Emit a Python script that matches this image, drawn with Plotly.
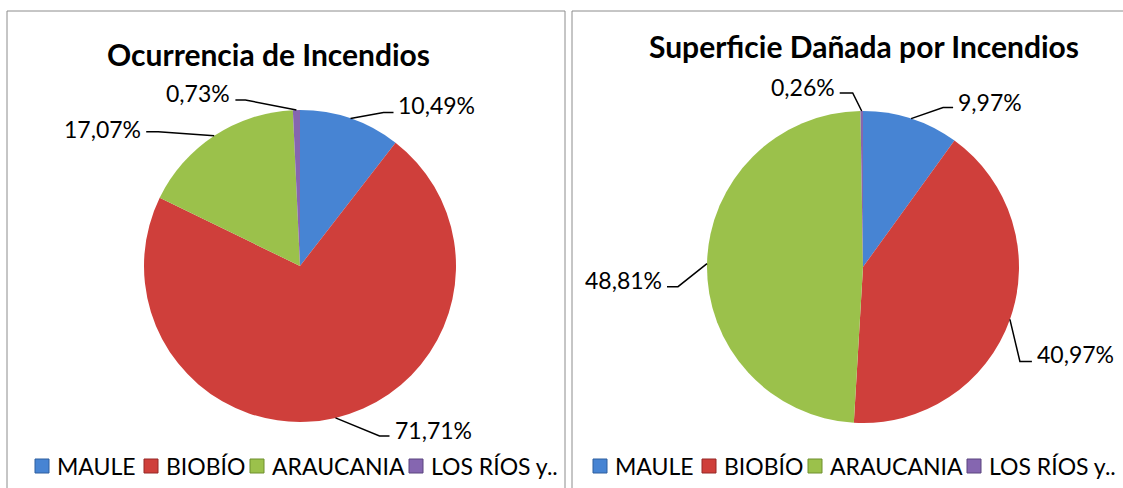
import math
import plotly.graph_objects as go

# ---- data ----
categories = ["MAULE", "BIOBÍO", "ARAUCANIA", "LOS RÍOS y.."]
ocurrencia = [10.49, 71.71, 17.07, 0.73]
superficie = [9.97, 40.97, 48.81, 0.26]
titles = ["Ocurrencia de Incendios", "Superficie Dañada por Incendios"]

colors = ["#4784D3", "#CF3F3B", "#9BC14B", "#8566B0"]
edge_colors = ["#2F5F9E", "#952826", "#6E8F2E", "#5B447F"]

W, H = 1123, 488
FONT = "Lato"

# ---- layout geometry (pixels) ----
pies = [
    dict(values=ocurrencia, cx=300, cy=266, r=156, title_x=268, title_y=54, leg_dx=0,
         # elbow offset from slice edge point, horizontal run, text y offset
         lab=[(33, -6, 10, -7), (44, 18, 10, -6), (-56, -4, -12, -3), (-51, -10, -10, -7)]),
    dict(values=superficie, cx=863, cy=267, r=156, title_x=864, title_y=46, leg_dx=558,
         lab=[(32, -11, 10, -6), (10, 42, 12, -7), (-29, 23, -11, -7), (-9, -18, -13, -6)]),
]
legend_square_x = [35, 144, 250, 409]
legend_y = 466
legend_sq = 14

fig = go.Figure()
shapes = []
annotations = []

# panel borders
shapes.append(dict(type="rect", xref="x", yref="y", x0=7, y0=11, x1=565, y1=500,
                   line=dict(color="#8c8c8c", width=1), fillcolor="rgba(0,0,0,0)"))
shapes.append(dict(type="rect", xref="x", yref="y", x0=572, y0=11, x1=1130, y1=500,
                   line=dict(color="#8c8c8c", width=1), fillcolor="rgba(0,0,0,0)"))

for k, p in enumerate(pies):
    cx, cy, r = p["cx"], p["cy"], p["r"]
    fig.add_trace(go.Pie(
        labels=categories, values=p["values"], sort=False, direction="clockwise",
        rotation=0, textinfo="none", hoverinfo="label+percent", showlegend=False,
        marker=dict(colors=colors, line=dict(width=0)),
        domain=dict(x=[(cx - r) / W, (cx + r) / W], y=[1 - (cy + r) / H, 1 - (cy - r) / H]),
    ))
    total = sum(p["values"])
    cum = 0.0
    for v, (dx, dy, run, ty) in zip(p["values"], p["lab"]):
        mid = 2 * math.pi * (cum + v / 2) / total
        cum += v
        ex, ey = cx + r * math.sin(mid), cy - r * math.cos(mid)
        bx, by = ex + dx, ey + dy
        hx = bx + run
        shapes.append(dict(type="path", xref="x", yref="y",
                           path=f"M{ex:.1f},{ey:.1f} L{bx:.1f},{by:.1f} L{hx:.1f},{by:.1f}",
                           line=dict(color="black", width=1.5)))
        txt = f"{v:.2f}".replace(".", ",") + "%"
        annotations.append(dict(
            x=hx + (3 if run > 0 else -3), y=by + ty, xref="x", yref="y",
            text=txt, showarrow=False, xanchor="left" if run > 0 else "right",
            yanchor="middle", font=dict(family=FONT, size=23, color="black")))
    annotations.append(dict(x=p["title_x"], y=p["title_y"], xref="x", yref="y",
                            text=f"<b>{titles[k]}</b>", showarrow=False,
                            xanchor="center", yanchor="middle",
                            font=dict(family=FONT, size=30, color="black")))
    # legend
    for name, col, ecol, sx in zip(categories, colors, edge_colors, legend_square_x):
        x0 = sx + p["leg_dx"]
        shapes.append(dict(type="rect", xref="x", yref="y",
                           x0=x0, x1=x0 + legend_sq,
                           y0=legend_y - legend_sq / 2, y1=legend_y + legend_sq / 2,
                           fillcolor=col, line=dict(color=ecol, width=1)))
        annotations.append(dict(x=x0 + legend_sq + 6, y=legend_y, xref="x", yref="y",
                                text=name, showarrow=False, xanchor="left", yanchor="middle",
                                font=dict(family=FONT, size=23, color="black")))

fig.update_layout(
    width=W, height=H,
    margin=dict(l=0, r=0, t=0, b=0),
    paper_bgcolor="white", plot_bgcolor="rgba(0,0,0,0)",
    xaxis=dict(range=[0, W], visible=False, domain=[0, 1], fixedrange=True),
    yaxis=dict(range=[H, 0], visible=False, domain=[0, 1], fixedrange=True),
    shapes=shapes, annotations=annotations,
    showlegend=False,
)

fig.write_html("out.html", config={"displayModeBar": False},
               post_script="document.body.style.margin='0';document.body.style.overflow='hidden';")
